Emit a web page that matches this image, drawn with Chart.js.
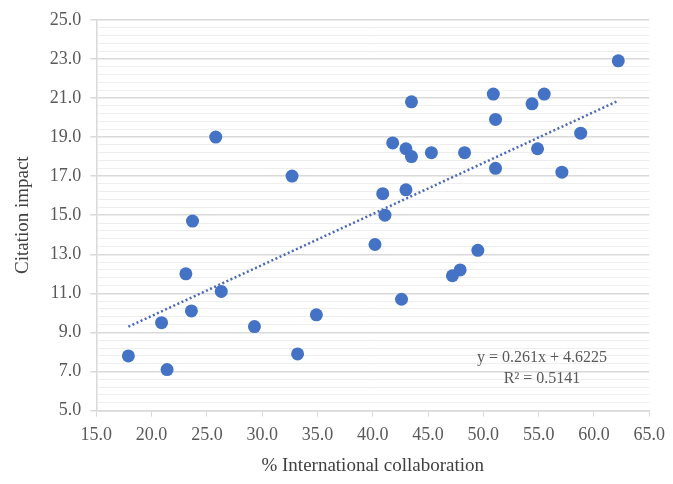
<!DOCTYPE html>
<html>
<head>
<meta charset="utf-8">
<script src="https://cdn.jsdelivr.net/npm/chart.js@4"></script>
<style>
html,body{margin:0;padding:0;background:#fff;}
#wrap{width:673px;height:484px;}
</style>
</head>
<body>
<div id="wrap"><canvas id="c" width="673" height="484"></canvas></div>
<script>
const collaboration = [17.9, 20.9, 21.4, 23.1, 23.6, 26.3, 29.3, 33.2, 34.9,
  25.8, 32.7, 23.7,
  62.2, 50.9, 55.5, 54.4, 43.5, 51.1, 58.8, 41.8, 43.0, 43.5, 45.3, 48.3, 54.9,
  51.1, 57.1, 40.9, 43.0, 41.1, 40.2, 49.5, 47.2, 47.9, 42.6];
const citationImpact = [7.8, 9.5, 7.1, 12.0, 10.1, 11.1, 9.3, 7.9, 9.9,
  19.0, 17.0, 14.7,
  22.9, 21.2, 21.2, 20.7, 20.8, 19.9, 19.2, 18.7, 18.4, 18.0, 18.2, 18.2, 18.4,
  17.4, 17.2, 16.1, 16.3, 15.0, 13.5, 13.2, 11.9, 12.2, 10.7];
const trendSlope = 0.261;
const trendIntercept = 4.6225;
const equationLines = ["y = 0.261x + 4.6225", "R\u00B2 = 0.5141"];
const xTitle = "% International collaboration";
const yTitle = "Citation impact";

const points = collaboration.map((x, i) => ({x: x, y: citationImpact[i]}));
const xMin = Math.min(...collaboration), xMax = Math.max(...collaboration);
const trend = [
  {x: xMin, y: trendSlope * xMin + trendIntercept},
  {x: xMax, y: trendSlope * xMax + trendIntercept}
];

const isMajor = v => Math.abs((v - 5) / 2 - Math.round((v - 5) / 2)) < 1e-6;
const serif = "'Liberation Serif', 'Times New Roman', serif";

const eqPlugin = {
  id: 'eq',
  afterDatasetsDraw(chart) {
    const ctx = chart.ctx;
    const xs = chart.scales.x, ys = chart.scales.y;
    ctx.save();
    ctx.font = "16px " + serif;
    ctx.fillStyle = "#595959";
    ctx.textAlign = "center";
    ctx.textBaseline = "middle";
    const cx = xs.getPixelForValue(55.3);
    ctx.fillText(equationLines[0], cx, ys.getPixelForValue(7.7));
    ctx.fillText(equationLines[1], cx, ys.getPixelForValue(6.62));
    ctx.restore();
  }
};

new Chart(document.getElementById('c'), {
  type: 'scatter',
  data: {
    datasets: [
      {
        data: points,
        backgroundColor: '#4472C4',
        borderColor: '#4472C4',
        pointRadius: 6.5,
        pointHoverRadius: 6.5,
        borderWidth: 0
      },
      {
        type: 'line',
        data: trend,
        borderColor: '#4a68b8',
        borderWidth: 2.5,
        borderDash: [2, 2.5],
        pointRadius: 0,
        fill: false
      }
    ]
  },
  options: {
    responsive: false,
    animation: false,
    layout: {padding: {left: 8, right: 6, top: 5, bottom: 7}},
    plugins: {legend: {display: false}, tooltip: {enabled: false}},
    scales: {
      x: {
        type: 'linear',
        min: 15, max: 65,
        ticks: {
          stepSize: 5,
          callback: v => Number(v).toFixed(1),
          font: {family: serif, size: 18},
          color: '#595959',
          padding: 8,
          maxRotation: 0
        },
        grid: {display: true, drawOnChartArea: false, drawTicks: true, tickLength: 6, color: '#d9d9d9'},
        border: {display: true, color: '#d9d9d9', width: 1.5},
        title: {display: true, text: xTitle, font: {family: serif, size: 19}, color: '#404040', padding: {top: 0, bottom: 0}}
      },
      y: {
        min: 5, max: 25,
        ticks: {
          stepSize: 0.4,
          autoSkip: false,
          callback: v => isMajor(v) ? Number(v).toFixed(1) : '',
          font: {family: serif, size: 18},
          color: '#595959',
          padding: 9
        },
        grid: {
          color: c => isMajor(c.tick.value) ? '#d9d9d9' : '#eeeeee',
          lineWidth: c => isMajor(c.tick.value) ? 1.5 : 1,
          tickColor: c => isMajor(c.tick.value) ? '#d9d9d9' : 'rgba(0,0,0,0)',
          tickLength: 6
        },
        border: {display: true, color: '#d9d9d9', width: 1.5},
        title: {display: true, text: yTitle, font: {family: serif, size: 19}, color: '#404040', padding: {bottom: 6}}
      }
    }
  },
  plugins: [eqPlugin]
});
</script>
</body>
</html>
